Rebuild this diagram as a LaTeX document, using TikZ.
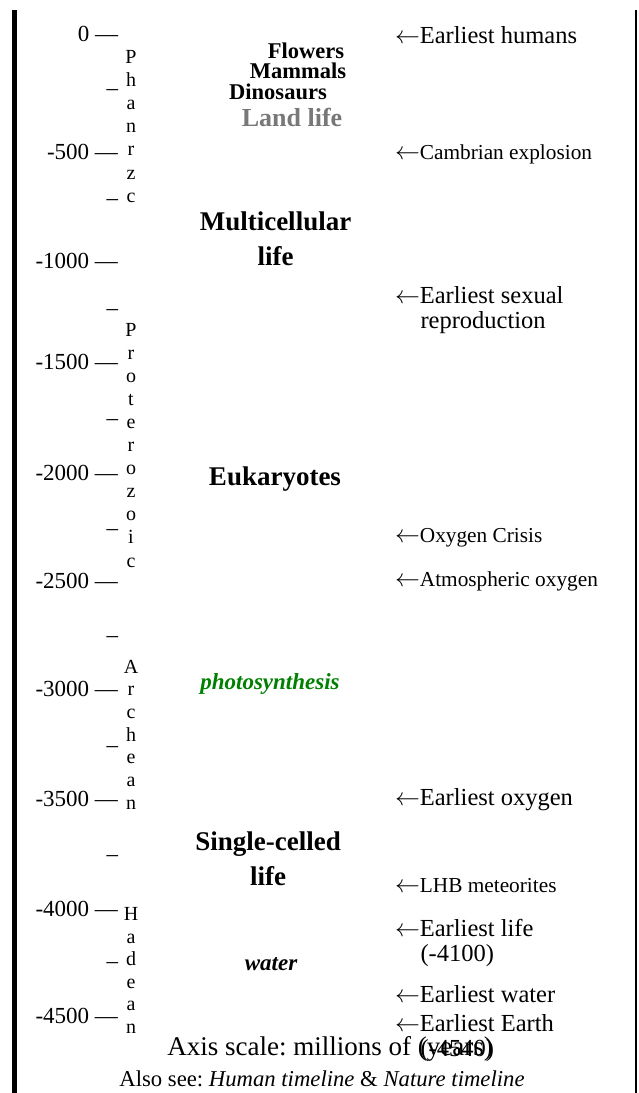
\documentclass[tikz,border=0pt]{standalone}
\usepackage{fontspec}
\setmainfont{Liberation Serif}
\frenchspacing
\newcommand\evarr{\ensuremath{\leftarrow}}
\newcommand\smallev{\fontsize{21.3}{23}\selectfont}
\begin{document}
\begin{tikzpicture}[x=1pt,y=-1pt,
  every node/.style={inner sep=0pt, outer sep=0pt},
  ticklab/.style={anchor=mid east, font=\fontsize{23}{25}\selectfont},
  minortick/.style={anchor=mid east, font=\fontsize{23}{25}\selectfont},
  vletter/.style={anchor=base, font=\fontsize{20}{23}\selectfont},
  evbig/.style={anchor=base west, font=\fontsize{24.5}{26}\selectfont},
  grp/.style={anchor=base, font=\bfseries\fontsize{27}{35}\selectfont},
  grpsmall/.style={anchor=base, font=\bfseries\fontsize{22.5}{24}\selectfont},
  grpital/.style={anchor=base, font=\bfseries\itshape\fontsize{23}{25}\selectfont}
]
\useasboundingbox (0,0) rectangle (638,1093);
\fill[black] (12,10) rectangle (16.7,1093);
\fill[black] (634.5,10) rectangle (637,1093);

% major ticks
\foreach \lab/\yy [count=\i] in {0/39.5,-500/157.5,-1000/266.5,-1500/367,-2000/478,-2500/586,-3000/694,-3500/804,-4000/914,-4500/1021.5}
  \node[ticklab] (t\i) at (118,\yy) {\lab\ —};
% minor ticks
\foreach \yy [count=\i] in {93,203,313,423,533,640,750,859,966}
  \node[minortick] (m\i) at (118,\yy) {–};

% vertical era names
\foreach \c [count=\i from 0] in {P,h,a,n,r,z,c}
  \node[vletter] (pha\i) at (131,63+23.2*\i) {\c};
\foreach \c [count=\i from 0] in {P,r,o,t,e,r,o,z,o,i,c}
  \node[vletter] (pro\i) at (131,336+23.1*\i) {\c};
\foreach \c [count=\i from 0] in {A,r,c,h,e,a,n}
  \node[vletter] (arc\i) at (131,673+22.7*\i) {\c};
\foreach \c [count=\i from 0] in {H,a,d,e,a,n}
  \node[vletter] (had\i) at (131,920.5+22.6*\i) {\c};

% centre labels
\node[grpsmall] (flw) at (306,58) {Flowers};
\node[grpsmall] (mam) at (298,78.5) {Mammals};
\node[grpsmall] (din) at (278,99) {Dinosaurs};
\node[anchor=base, font=\bfseries\fontsize{26}{28}\selectfont, text=black!53] (land) at (292,126) {Land life};
\node[grp] (mc1) at (275.5,230.5) {Multicellular};
\node[grp] (mc2) at (275.5,265) {life};
\node[grp] (euk) at (275,485) {Eukaryotes};
\node[grpital, text={rgb,255:red,0;green,128;blue,0}] (pho) at (270,689) {photosynthesis};
\node[grp] (sc1) at (268,850) {Single-celled};
\node[grp] (sc2) at (268,885) {life};
\node[grpital] (wat) at (271,970) {water};

% events
\node[evbig] (e1) at (395,43) {\evarr Earliest humans};
\node[evbig] (e2) at (395,159) {\evarr{\smallev Cambrian explosion}};
\node[evbig] (e3) at (395,303) {\evarr Earliest sexual};
\node[evbig] (e3b) at (420.5,328) {reproduction};
\node[evbig] (e4) at (395,542) {\evarr{\smallev Oxygen Crisis}};
\node[evbig] (e5) at (395,586) {\evarr{\smallev Atmospheric oxygen}};
\node[evbig] (e6) at (395,805) {\evarr Earliest oxygen};
\node[evbig] (e7) at (395,892) {\evarr{\smallev LHB meteorites}};
\node[evbig] (e8) at (395,936) {\evarr Earliest life};
\node[evbig] (e8b) at (420.5,961) {(-4100)};
\node[evbig] (e9) at (395,1002) {\evarr Earliest water};
\node[evbig] (e10) at (395,1031) {\evarr Earliest Earth};
\node[evbig] (e10b) at (420.5,1056) {(-4540)};

% footer
\node[anchor=base, font=\fontsize{27}{29}\selectfont] (axis) at (330,1055) {Axis scale: millions of (years)};
\node[anchor=base, font=\fontsize{22.7}{24}\selectfont] (see) at (322,1086) {Also see: \textit{Human timeline} \& \textit{Nature timeline}};
\end{tikzpicture}
\end{document}
